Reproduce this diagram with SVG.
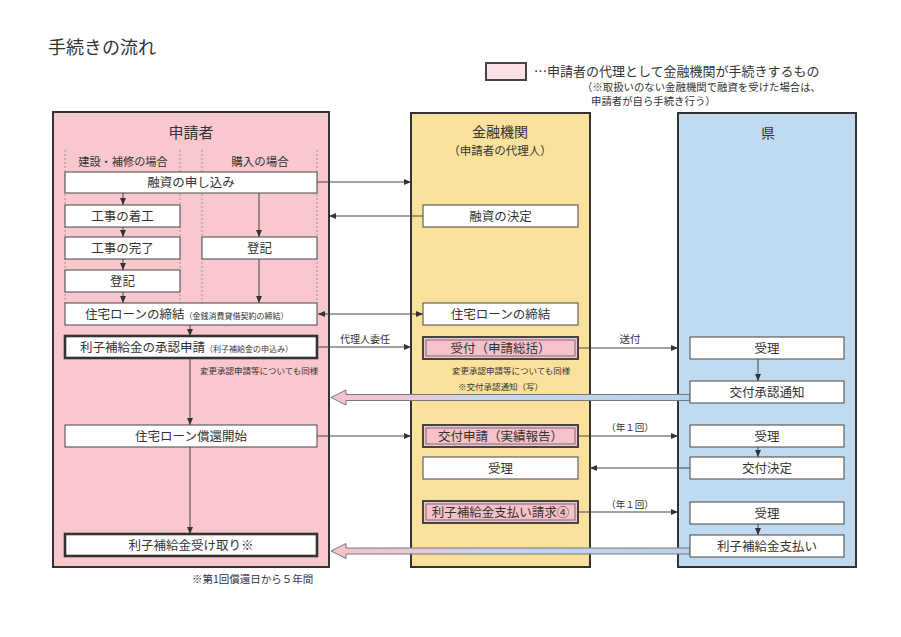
<svg xmlns="http://www.w3.org/2000/svg" width="901" height="637" viewBox="0 0 901 637">
<style>
text{font-family:"Noto Sans CJK JP","Noto Sans",sans-serif;fill:#333;}
.c{text-anchor:middle;}
.panel{stroke:#333;stroke-width:2;}
.box{fill:#fff;stroke:#444;stroke-width:1;}
.thick{fill:#fff;stroke:#333;stroke-width:2.6;}
.pk{fill:#f6c1c9;stroke:#444;stroke-width:2;}
.pki{fill:none;stroke:#555;stroke-width:0.8;}
.ln{stroke:#444;stroke-width:1;fill:none;}
.dash{stroke:#999;stroke-width:1;stroke-dasharray:2,2;fill:none;}
.bt{font-size:12.5px;}
.sm{font-size:8.5px;}
.hol{stroke:#777;stroke-width:1;fill:url(#grad);}
</style>
<defs>
<marker id="ar" markerUnits="userSpaceOnUse" markerWidth="7" markerHeight="6" refX="7" refY="3" orient="auto-start-reverse">
<path d="M0,0 L7,3 L0,6 z" fill="#333"/>
</marker>
<linearGradient id="grad" gradientUnits="userSpaceOnUse" x1="331" y1="0" x2="690" y2="0">
<stop offset="0" stop-color="#f7c2ca"/>
<stop offset="0.22" stop-color="#ecc7d8"/>
<stop offset="0.42" stop-color="#cad6ee"/>
<stop offset="1" stop-color="#b8d1ec"/>
</linearGradient>
</defs>
<rect width="901" height="637" fill="#fff"/>
<text x="48" y="54" font-size="18">手続きの流れ</text>
<g id="legend">
<rect x="486" y="63" width="40" height="17" fill="#fde1e4" stroke="#444" stroke-width="2"/>
<text x="534" y="76" font-size="13">…申請者の代理として金融機関が手続きするもの</text>
<text x="582" y="91" font-size="10.4">（※取扱いのない金融機関で融資を受けた場合は、</text>
<text x="591" y="105" font-size="10.4">申請者が自ら手続き行う）</text>
</g>
<g id="panel-applicant">
<rect class="panel" x="53" y="112" width="276" height="455" fill="#f8c8ce"/>
<text class="c" x="191" y="138" font-size="15">申請者</text>
<text class="c" x="123" y="166" font-size="11.2">建設・補修の場合</text>
<text class="c" x="260" y="166" font-size="11.5">購入の場合</text>
<line class="dash" x1="65" y1="150" x2="65" y2="303"/>
<line class="dash" x1="180" y1="150" x2="180" y2="303"/>
<line class="dash" x1="202" y1="150" x2="202" y2="303"/>
<line class="dash" x1="317" y1="150" x2="317" y2="303"/>
</g>
<g id="panel-bank">
<rect class="panel" x="411" y="113" width="179" height="454" fill="#fbe29c"/>
<text class="c" x="500" y="137" font-size="14">金融機関</text>
<text class="c" x="500" y="155" font-size="11.5">（申請者の代理人）</text>
</g>
<g id="panel-pref">
<rect class="panel" x="678" y="113" width="178" height="454" fill="#c0dbf1"/>
<text class="c" x="768" y="138" font-size="14">県</text>
</g>
<g id="connectors">
<line class="ln" x1="123" y1="193" x2="123" y2="205" marker-end="url(#ar)"/>
<line class="ln" x1="123" y1="227" x2="123" y2="237" marker-end="url(#ar)"/>
<line class="ln" x1="123" y1="259" x2="123" y2="270" marker-end="url(#ar)"/>
<line class="ln" x1="123" y1="292" x2="123" y2="303" marker-end="url(#ar)"/>
<line class="ln" x1="259" y1="193" x2="259" y2="237" marker-end="url(#ar)"/>
<line class="ln" x1="259" y1="259" x2="259" y2="303" marker-end="url(#ar)"/>
<line class="ln" x1="190" y1="325" x2="190" y2="336" marker-end="url(#ar)"/>
<line class="ln" x1="190" y1="358" x2="190" y2="425" marker-end="url(#ar)"/>
<line class="ln" x1="190" y1="447" x2="190" y2="534" marker-end="url(#ar)"/>
<line class="ln" x1="317" y1="182" x2="411" y2="182" marker-end="url(#ar)"/>
<line class="ln" x1="423" y1="216" x2="329" y2="216" marker-end="url(#ar)"/>
<line class="ln" x1="318" y1="314" x2="423" y2="314" marker-start="url(#ar)" marker-end="url(#ar)"/>
<line class="ln" x1="317" y1="347" x2="411" y2="347" marker-end="url(#ar)"/>
<line class="ln" x1="578" y1="348" x2="678" y2="348" marker-end="url(#ar)"/>
<line class="ln" x1="317" y1="436" x2="411" y2="436" marker-end="url(#ar)"/>
<line class="ln" x1="578" y1="436" x2="678" y2="436" marker-end="url(#ar)"/>
<line class="ln" x1="690" y1="468" x2="590" y2="468" marker-end="url(#ar)"/>
<line class="ln" x1="578" y1="512" x2="678" y2="512" marker-end="url(#ar)"/>
<line class="ln" x1="758" y1="359" x2="758" y2="381" marker-end="url(#ar)"/>
<line class="ln" x1="758" y1="447" x2="758" y2="457" marker-end="url(#ar)"/>
<line class="ln" x1="758" y1="524" x2="758" y2="535" marker-end="url(#ar)"/>
<path class="hol" d="M690,394.5 L346,394.5 L346,390 L331,397.5 L346,405 L346,400.5 L690,400.5 Z"/>
<path class="hol" d="M690,548 L346,548 L346,543.5 L331,551 L346,558.5 L346,554 L690,554 Z"/>
<text class="c" x="365" y="343" font-size="10">代理人委任</text>
<text class="c" x="630" y="343" font-size="10.5">送付</text>
<text class="c" x="630" y="431" font-size="9.5">（年１回）</text>
<text class="c" x="630" y="508" font-size="9.5">（年１回）</text>
<text x="200" y="374" class="sm">変更承認申請等についても同様</text>
<text x="452" y="374" class="sm">変更承認申請等についても同様</text>
<text x="458" y="390" class="sm">※交付承認通知（写）</text>
</g>
<g id="n-yushi-moushikomi"><rect class="box" x="65" y="172" width="252" height="21"/><text class="c bt" x="191" y="187">融資の申し込み</text></g>
<g id="n-chakko"><rect class="box" x="65" y="205" width="115" height="22"/><text class="c bt" x="122.5" y="220.5">工事の着工</text></g>
<g id="n-kanryo"><rect class="box" x="65" y="237" width="115" height="22"/><text class="c bt" x="122.5" y="252.5">工事の完了</text></g>
<g id="n-toki-l"><rect class="box" x="65" y="270" width="115" height="22"/><text class="c bt" x="122.5" y="285.5">登記</text></g>
<g id="n-toki-r"><rect class="box" x="202" y="237" width="115" height="22"/><text class="c bt" x="259.5" y="252.5">登記</text></g>
<g id="n-teiketsu-l"><rect class="box" x="65" y="303" width="252" height="22"/><text x="85" y="318.5" class="bt">住宅ローンの締結<tspan font-size="8">（金銭消費貸借契約の締結）</tspan></text></g>
<g id="n-shonin"><rect class="thick" x="65" y="336" width="252" height="22"/><text x="80" y="351.5" class="bt">利子補給金の承認申請<tspan font-size="8">（利子補給金の申込み）</tspan></text></g>
<g id="n-shokan"><rect class="box" x="65" y="425" width="252" height="22"/><text class="c bt" x="191" y="440.5">住宅ローン償還開始</text></g>
<g id="n-uketori"><rect class="thick" x="65" y="534" width="252" height="22"/><text class="c bt" x="191" y="549.5">利子補給金受け取り※</text></g>
<g id="n-kettei"><rect class="box" x="423" y="205" width="155" height="22"/><text class="c bt" x="500.5" y="220.5">融資の決定</text></g>
<g id="n-teiketsu-m"><rect class="box" x="423" y="303" width="155" height="22"/><text class="c bt" x="500.5" y="318.5">住宅ローンの締結</text></g>
<g id="n-uketsuke"><rect class="pk" x="423" y="337" width="155" height="22"/><rect class="pki" x="426" y="340" width="149" height="16"/><text class="c bt" x="500.5" y="352.5">受付（申請総括）</text></g>
<g id="n-kofu-shinsei"><rect class="pk" x="423" y="425" width="155" height="22"/><rect class="pki" x="426" y="428" width="149" height="16"/><text class="c bt" x="500.5" y="440.5">交付申請（実績報告）</text></g>
<g id="n-juri-m"><rect class="box" x="423" y="457" width="155" height="22"/><text class="c bt" x="500.5" y="472.5">受理</text></g>
<g id="n-shiharai-seikyu"><rect class="pk" x="423" y="501" width="155" height="22"/><rect class="pki" x="426" y="504" width="149" height="16"/><text class="c bt" x="500.5" y="516.5">利子補給金支払い請求④</text></g>
<g id="n-juri-1"><rect class="box" x="690" y="337" width="154" height="22"/><text class="c bt" x="767" y="352.5">受理</text></g>
<g id="n-shonin-tsuchi"><rect class="box" x="690" y="381" width="154" height="22"/><text class="c bt" x="767" y="396.5">交付承認通知</text></g>
<g id="n-juri-2"><rect class="box" x="690" y="425" width="154" height="22"/><text class="c bt" x="767" y="440.5">受理</text></g>
<g id="n-kofu-kettei"><rect class="box" x="690" y="457" width="154" height="22"/><text class="c bt" x="767" y="472.5">交付決定</text></g>
<g id="n-juri-3"><rect class="box" x="690" y="502" width="154" height="22"/><text class="c bt" x="767" y="517.5">受理</text></g>
<g id="n-shiharai"><rect class="box" x="690" y="535" width="154" height="22"/><text class="c bt" x="767" y="550.5">利子補給金支払い</text></g>
<text x="192" y="583" font-size="10.5">※第1回償還日から５年間</text>
</svg>
